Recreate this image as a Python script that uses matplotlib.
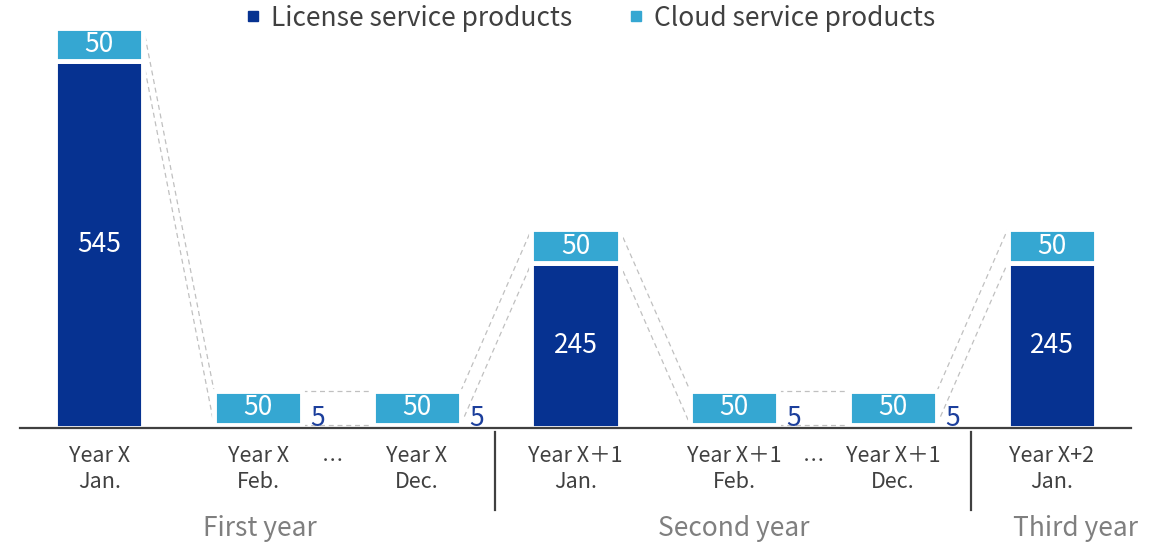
import matplotlib
matplotlib.use("Agg")
import matplotlib.pyplot as plt
import matplotlib.transforms as mtransforms
from matplotlib.lines import Line2D
import numpy as np

plt.rcParams['font.family'] = ['Noto Sans CJK JP', 'DejaVu Sans']

# data
categories = ["Year X\nJan.", "Year X\nFeb.", "Year X\nDec.",
              "Year X＋1\nJan.", "Year X＋1\nFeb.", "Year X＋1\nDec.",
              "Year X+2\nJan."]
license_vals = [545, 5, 5, 245, 5, 5, 245]
cloud_vals = [50, 50, 50, 50, 50, 50, 50]
series_names = ["License service products", "Cloud service products"]
groups = ["First year", "Second year", "Third year"]

# layout (not data)
group_x = [1.01, 4.0, 6.15]
ellipsis_x = [1.47, 4.5]
sep_x = [2.49, 5.49]

c_lic = "#063291"
c_cloud = "#35A7D2"
c_text = "#404040"
c_group = "#7f7f7f"

fig = plt.figure(figsize=(11.61, 5.44), dpi=100)
ax = fig.add_axes([20 / 1161, 116 / 544, 1111 / 1161, 428 / 544])

x = np.arange(len(categories))
w = 0.555
lic = np.array(license_vals)
cld = np.array(cloud_vals)

ax.bar(x, lic, w, color=c_lic, edgecolor="white", linewidth=3.5, zorder=2)
ax.bar(x, cld, w, bottom=lic, color=c_cloud, edgecolor="white", linewidth=3.5, zorder=2)

# series lines (dashed connectors)
for i in range(len(x) - 1):
    for tops in (lic, lic + cld):
        ax.plot([x[i] + w / 2, x[i + 1] - w / 2], [tops[i], tops[i + 1]],
                color="#c0c0c0", lw=0.9, ls=(0, (4, 3)), zorder=1)

# data labels
for i in range(len(x)):
    ax.text(x[i], lic[i] + cld[i] / 2, str(cld[i]), color="white",
            ha="center", va="center", fontsize=19, zorder=3)
    if lic[i] > 40:
        ax.text(x[i], lic[i] / 2, str(lic[i]), color="white",
                ha="center", va="center", fontsize=19, zorder=3)
    else:
        ax.annotate(str(lic[i]), (x[i] + w / 2, 0), xytext=(6, -3),
                    textcoords="offset points", color="#1c3f9c",
                    ha="left", va="bottom", fontsize=19, zorder=3)

ax.set_xlim(-0.5, len(x) - 0.5)
ax.set_ylim(0, 636)
for s in ["top", "right", "left"]:
    ax.spines[s].set_visible(False)
ax.spines["bottom"].set_color(c_text)
ax.spines["bottom"].set_linewidth(1.6)
ax.spines["bottom"].set_zorder(4)
ax.set_yticks([])
ax.set_xticks([])

trans = mtransforms.blended_transform_factory(ax.transData, fig.transFigure)
for i, lab in enumerate(categories):
    ax.text(x[i], 1 - 469 / 544, lab, transform=trans, ha="center", va="center",
            fontsize=15.5, color=c_text, linespacing=1.2)
for ex in ellipsis_x:
    ax.text(ex, 1 - 462 / 544, "…", transform=trans, ha="center", va="center",
            fontsize=15.5, color=c_text)
for gx, g in zip(group_x, groups):
    ax.text(gx, 1 - 529 / 544, g, transform=trans, ha="center", va="center",
            fontsize=19, color=c_group)
for sx in sep_x:
    fig.add_artist(Line2D([sx, sx], [1 - 432 / 544, 1 - 510 / 544], transform=trans,
                          color=c_text, lw=1.6))

handles = [Line2D([], [], marker="s", ls="none", color=c, markersize=7)
           for c in (c_lic, c_cloud)]
fig.legend(handles, series_names, loc="center", bbox_to_anchor=(589 / 1161, 1 - 18 / 544),
           ncol=2, frameon=False, fontsize=19, handletextpad=0.3, columnspacing=2.0,
           labelcolor=c_text, handlelength=0.8)

fig.savefig("out.png", dpi=100)
